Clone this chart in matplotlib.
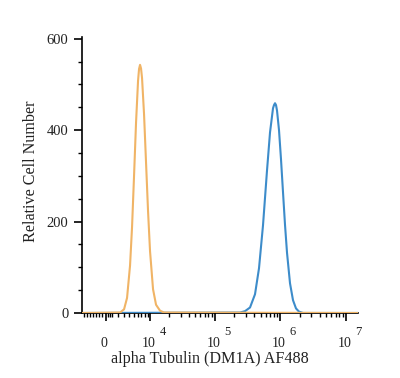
import numpy as np
import matplotlib
matplotlib.use("Agg")
import matplotlib.pyplot as plt

# histogram curves (intensity, cell count)
orange_x = [-3900, 2288, 2999, 3568, 4179, 4611, 5066, 5546, 6054, 6319, 6591,
            6872, 7161, 7767, 8410, 9096, 9827, 11014, 12325, 14288, 16535, 15400000]
orange_y = [0, 1, 8, 33, 104, 188, 300, 417, 508, 534, 543,
            535, 514, 435, 329, 223, 135, 52, 18, 5, 1, 0]

blue_x = [-3900, 243200, 289800, 345500, 411900, 474100, 545700, 628200, 698000,
          775700, 803400, 832200, 862000, 892800, 957800, 1027600, 1102500,
          1182700, 1268900, 1409900, 1566300, 1740400, 1933800, 2226000, 15400000]
blue_y = [0, 1, 4, 12, 41, 98, 192, 312, 395,
          448, 455, 459, 455, 443, 400, 336, 264,
          193, 132, 65, 28, 10, 3, 0, 0]

x_major = [0, 1e4, 1e5, 1e6, 1e7]
x_base = ['0', '10', '10', '10', '10']
x_exp = ['', '4', '5', '6', '7']
y_major = [0, 200, 400, 600]

C = 4300.0  # linear width of the biexponential-like scale

def fwd(x):
    return np.arcsinh(np.asarray(x, float) / C) / np.log(10)

def inv(y):
    return C * np.sinh(np.asarray(y, float) * np.log(10))

plt.rcParams['font.family'] = ['Liberation Serif', 'DejaVu Serif']
txt = '#222222'

fig = plt.figure(figsize=(4.0, 3.78), dpi=100)
ax = fig.add_axes([0.206, 0.172, 0.689, 0.729])
ax.set_xscale('function', functions=(fwd, inv))

ax.plot(blue_x, blue_y, color='#3d8cca', lw=1.5, zorder=3)
ax.plot(orange_x, orange_y, color='#f0b466', lw=1.5, zorder=4)

ax.set_xlim(-3900, 1.54e7)
ax.set_ylim(0, 603)

for s in ['top', 'right']:
    ax.spines[s].set_visible(False)
for s in ['left', 'bottom']:
    ax.spines[s].set_linewidth(1.2)
    ax.spines[s].set_color('black')

ax.set_xticks(x_major)
ax.set_xticklabels([])
minor = list(np.arange(-3500, 0, 500)) + [300, 600]
for dec in [1e3, 1e4, 1e5, 1e6]:
    minor += [k * dec for k in range(2 if dec > 1e3 else 1, 10)]
ax.set_xticks(minor, minor=True)

# x tick labels: base and raised exponent drawn as separate texts
for xv, b, e in zip(x_major, x_base, x_exp):
    ax.annotate(b, xy=(xv, 0), xycoords=('data', 'axes fraction'),
                xytext=(-1.0, -24.5), textcoords='offset points',
                ha='center', va='baseline', fontsize=10, color=txt)
    if e:
        ax.annotate(e, xy=(xv, 0), xycoords=('data', 'axes fraction'),
                    xytext=(6.5, -16), textcoords='offset points',
                    ha='left', va='baseline', fontsize=9, color=txt)

ax.set_yticks(y_major)
ax.set_yticks(np.arange(0, 601, 50), minor=True)

ax.tick_params(axis='both', which='major', direction='out', length=6, width=1.2,
               labelsize=10.5, labelcolor=txt)
ax.tick_params(axis='both', which='minor', direction='out', length=3, width=1.0)
ax.tick_params(axis='y', which='major', pad=4)

fig.text(0.525, 0.040, 'alpha Tubulin (DM1A) AF488', fontsize=11.6, color=txt,
         ha='center', va='baseline')
fig.text(0.078, 0.546, 'Relative Cell Number', fontsize=11.6, color=txt,
         ha='center', va='center', rotation=90)

fig.savefig('out.png', dpi=100)
